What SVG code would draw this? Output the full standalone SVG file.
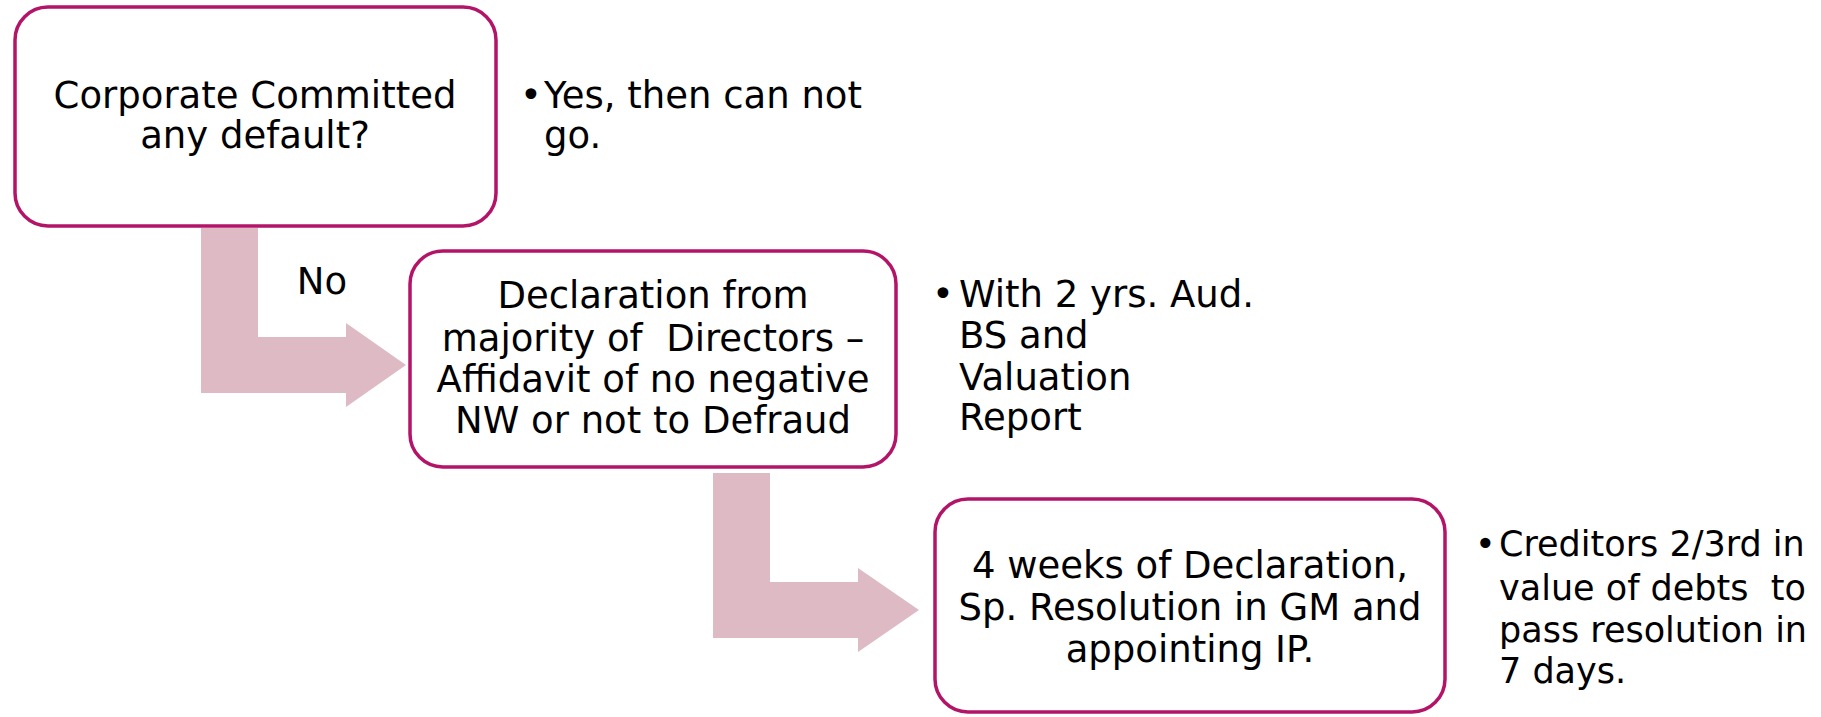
<svg xmlns="http://www.w3.org/2000/svg" width="1821" height="717" viewBox="0 0 1821 717">
<style>
.box{fill:#fff;stroke:#B31468;stroke-width:3.5}
.arrow{fill:#DEBBC4;stroke:none}
text{font-family:"DejaVu Sans","Liberation Sans",sans-serif;font-size:37px;fill:#000}
.c{text-anchor:middle}
.s{font-size:35px}
</style>
<rect width="1821" height="717" fill="#fff"/>
<g id="connectors">
<polygon class="arrow" points="201,228 258,228 258,337 346,337 346,323 406,365 346,407 346,393 201,393"/>
<polygon class="arrow" points="713,473 770,473 770,582 858,582 858,568 919,610 858,652 858,638 713,638"/>
<text x="322" y="294" class="c">No</text>
</g>
<g id="node1">
<rect class="box" x="15" y="7" width="481" height="219" rx="33"/>
<text class="c" x="255" y="108">Corporate Committed</text>
<text class="c" x="255" y="148">any default?</text>
</g>
<g id="note1">
<text x="520" y="108">•</text>
<text x="544" y="108">Yes, then can not</text>
<text x="544" y="148">go.</text>
</g>
<g id="node2">
<rect class="box" x="410" y="251" width="486" height="216" rx="33"/>
<text class="c" x="653" y="308">Declaration from</text>
<text class="c" x="653" y="351" xml:space="preserve">majority of  Directors –</text>
<text class="c" x="653" y="392">Affidavit of no negative</text>
<text class="c" x="653" y="433">NW or not to Defraud</text>
</g>
<g id="note2">
<text x="932" y="307">•</text>
<text x="959" y="307">With 2 yrs. Aud.</text>
<text x="959" y="348">BS and</text>
<text x="959" y="390">Valuation</text>
<text x="959" y="430">Report</text>
</g>
<g id="node3">
<rect class="box" x="935" y="499" width="510" height="213" rx="33"/>
<text class="c" x="1190" y="578">4 weeks of Declaration,</text>
<text class="c" x="1190" y="620">Sp. Resolution in GM and</text>
<text class="c" x="1190" y="662">appointing IP.</text>
</g>
<g id="note3">
<text class="s" x="1475" y="556">•</text>
<text class="s" x="1499" y="556">Creditors 2/3rd in</text>
<text class="s" x="1499" y="600" xml:space="preserve">value of debts  to</text>
<text class="s" x="1499" y="642">pass resolution in</text>
<text class="s" x="1499" y="683">7 days.</text>
</g>
</svg>
